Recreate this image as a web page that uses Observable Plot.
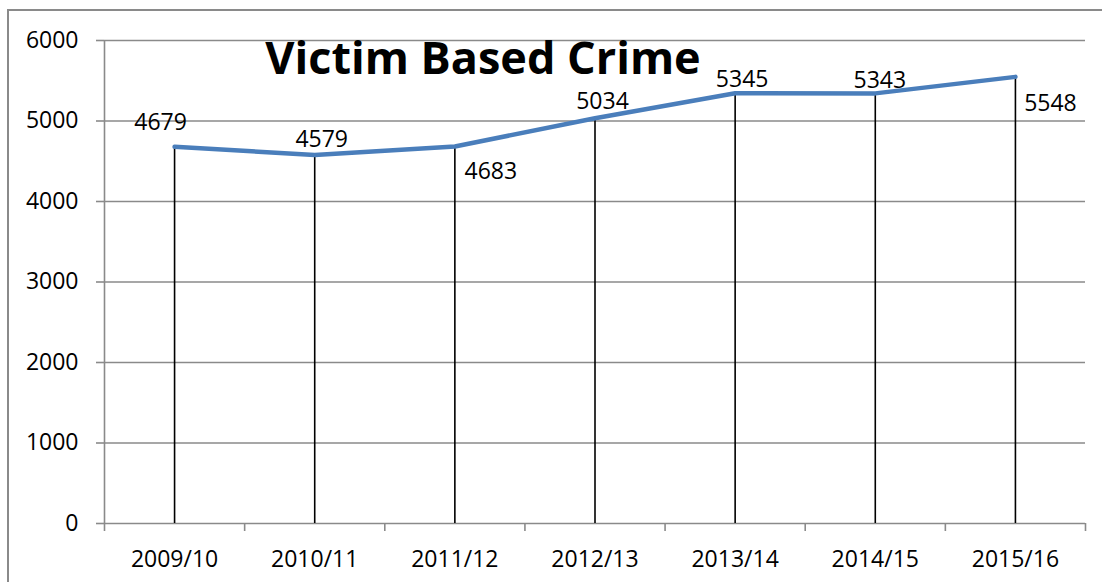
<!DOCTYPE html>
<html>
<head>
<meta charset="utf-8">
<script src="https://cdn.jsdelivr.net/npm/d3@7"></script>
<script src="https://cdn.jsdelivr.net/npm/@observablehq/plot@0.6"></script>
<style>
  html, body { margin: 0; padding: 0; background: #fff; }
  #wrap { position: relative; width: 1102px; height: 582px; overflow: hidden; }
  #frame { position: absolute; left: 7px; top: 9px; width: 1200px; height: 700px;
           border-top: 2px solid #8a8a8a; border-left: 2px solid #8a8a8a; }
  #chart { position: absolute; left: 0; top: 0; }
</style>
</head>
<body>
<div id="wrap"><div id="frame"></div><div id="chart"></div></div>
<script>
const title = "Victim Based Crime";
const categories = ["2009/10", "2010/11", "2011/12", "2012/13", "2013/14", "2014/15", "2015/16"];
const values = [4679, 4579, 4683, 5034, 5345, 5343, 5548];
const yTicks = [0, 1000, 2000, 3000, 4000, 5000, 6000];

// label placement (dx, dy) relative to each point
const labelOffsets = [[-14, -24], [7, -15], [36, 25], [7.5, -17], [7, -13.5], [4.5, -13], [35, 26.5]];

const data = categories.map((c, i) => ({i, category: c, value: values[i]}));
const idx = categories.map((c, i) => i);
const bounds = categories.map((c, i) => i - 0.5).concat([categories.length - 0.5]);

const grid = "#8a8a8a";
const fs = 23;

const chart = Plot.plot({
  width: 1102,
  height: 582,
  marginLeft: 104,
  marginRight: 17,
  marginTop: 40,
  marginBottom: 59,
  style: {fontFamily: "'Open Sans', sans-serif", fontSize: fs + "px", color: "#000", background: "transparent"},
  x: {type: "linear", domain: [-0.5, categories.length - 0.5]},
  y: {domain: [0, 6000]},
  marks: [
    Plot.ruleY(yTicks, {stroke: grid, strokeWidth: 1.6}),
    Plot.ruleX([-0.5], {stroke: grid, strokeWidth: 1.6}),
    Plot.axisY(yTicks, {tickSize: 8, tickPadding: 18, stroke: grid, strokeWidth: 1.6, fontSize: fs,
      tickFormat: d => String(d), label: null}),
    Plot.axisX(bounds, {tickSize: 8, tickFormat: () => "", stroke: grid, strokeWidth: 1.6, label: null}),
    Plot.axisX(idx, {tickSize: 0, tickPadding: 27, tickFormat: i => categories[i], fontSize: fs, label: null}),
    Plot.ruleX(data, {x: "i", y1: 0, y2: "value", stroke: "#000", strokeWidth: 1.6}),
    Plot.line(data, {x: "i", y: "value", stroke: "#4A7EBB", strokeWidth: 4.5}),
    ...data.map((d, k) => Plot.text([d], {x: "i", y: "value", text: d => String(d.value),
      dx: labelOffsets[k][0], dy: labelOffsets[k][1], fontSize: fs, fill: "#000"})),
    Plot.text([title], {frameAnchor: "top-left", lineAnchor: "middle", dx: 378.5, dy: 18.6, fontSize: 45,
      fontWeight: "bold", fill: "#000", textAnchor: "middle"})
  ]
});
document.getElementById("chart").appendChild(chart);
</script>
</body>
</html>
